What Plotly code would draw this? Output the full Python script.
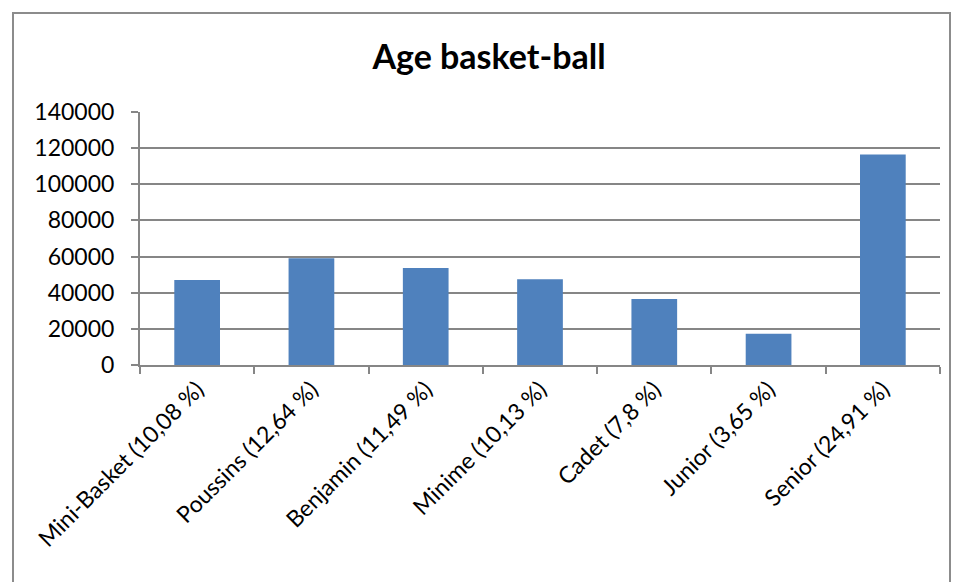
import plotly.graph_objects as go

categories = ["Mini-Basket (10,08 %)", "Poussins (12,64 %)", "Benjamin (11,49 %)",
              "Minime (10,13 %)", "Cadet (7,8 %)", "Junior (3,65 %)", "Senior (24,91 %)"]
values = [47100, 59100, 53700, 47400, 36500, 17300, 116500]
y_ticks = [0, 20000, 40000, 60000, 80000, 100000, 120000, 140000]

W, H = 958, 582
L, R, T, B = 140, 18, 112, 217
pw, ph = W - L - R, H - T - B

def px_x(x):
    return (x - L) / pw

def px_y(y):
    return (H - B - y) / ph

fig = go.Figure(go.Bar(x=categories, y=values, marker=dict(color="#4F81BD", line=dict(width=0)),
                       width=0.4))

grid = "#868686"
fig.update_layout(
    width=W, height=H,
    margin=dict(l=L, r=R, t=T, b=B),
    paper_bgcolor="white", plot_bgcolor="white",
    font=dict(family="Lato, Open Sans, sans-serif", size=22, color="black"),
    title=dict(text="<b>Age basket-ball</b>", x=489 / W, xanchor="center", xref="container",
               y=1 - 57 / H, yanchor="middle", yref="container",
               font=dict(size=34, color="black")),
    showlegend=False,
    bargap=0.6,
    shapes=[dict(type="rect", xref="paper", yref="paper",
                 x0=px_x(13), x1=px_x(950), y0=px_y(600), y1=px_y(13),
                 line=dict(color="#8c8c8c", width=2), fillcolor="rgba(0,0,0,0)", layer="below")],
)
fig.update_xaxes(type="category", showline=True, linecolor=grid, linewidth=2,
                 ticks="outside", ticklen=7, tickcolor=grid, tickwidth=2,
                 tickson="boundaries", tickangle=-45, showgrid=False,
                 tickfont=dict(size=23))
fig.update_yaxes(range=[0, 140000], tickvals=y_ticks, ticktext=[str(v) for v in y_ticks],
                 showline=True, linecolor=grid, linewidth=2,
                 ticks="outside", ticklen=7, tickcolor=grid, tickwidth=2,
                 ticklabelstandoff=12,
                 showgrid=True, gridcolor=grid, gridwidth=2, zeroline=False,
                 tickfont=dict(size=23))

fig.write_html("out.html")
